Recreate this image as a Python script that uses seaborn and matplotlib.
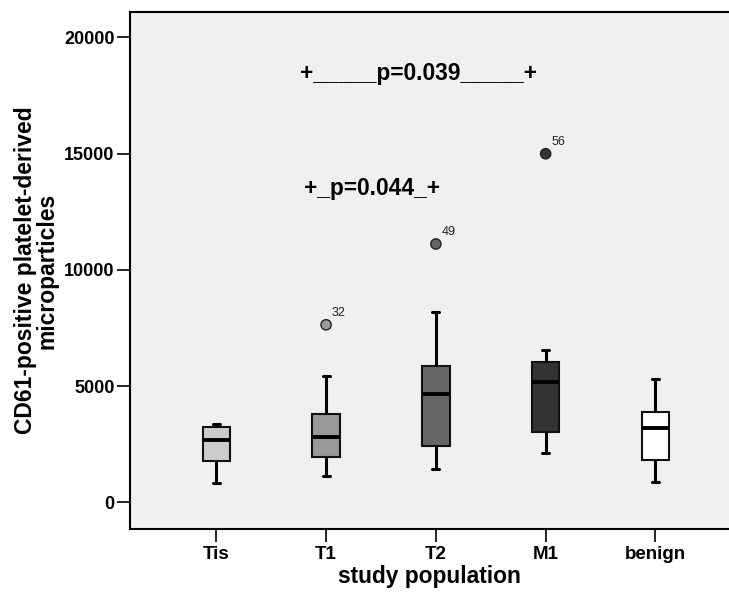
import matplotlib
matplotlib.use("Agg")
import matplotlib.pyplot as plt
import seaborn as sns
import pandas as pd

# ---- data ----
categories = ["Tis", "T1", "T2", "M1", "benign"]
whisker_low = [840, 1135, 1425, 2140, 895]
q1 = [1795, 1940, 2445, 3020, 1825]
median = [2685, 2805, 4660, 5180, 3205]
q3 = [3230, 3805, 5870, 6055, 3905]
whisker_high = [3385, 5450, 8205, 6555, 5325]
outlier_cat = ["T1", "T2", "M1"]
outlier_val = [7640, 11115, 14995]
outlier_id = ["32", "49", "56"]
box_colors = ["#cccccc", "#999999", "#666666", "#333333", "#ffffff"]
yticks = [0, 5000, 10000, 15000, 20000]
ann1 = "+_____p=0.039_____+"
ann2 = "+_p=0.044_+"

# table of values reproducing each five-number summary (n=9)
rows = []
for c, lo, a, m, b, hi in zip(categories, whisker_low, q1, median, q3, whisker_high):
    for v in [lo, a, a, m, m, b, b, hi, hi]:
        rows.append({"group": c, "value": v})
df = pd.DataFrame(rows)
out_df = pd.DataFrame({"group": outlier_cat, "value": outlier_val, "id": outlier_id})
palette = dict(zip(categories, box_colors))

sns.set_style("ticks")
plt.rcParams["font.family"] = ["Liberation Sans", "DejaVu Sans"]
plt.rcParams["text.color"] = "black"
plt.rcParams["axes.labelcolor"] = "black"
plt.rcParams["xtick.color"] = "black"
plt.rcParams["ytick.color"] = "black"

fig = plt.figure(figsize=(7.29, 5.95), dpi=100)
ax = fig.add_axes([130 / 729, 1 - 529 / 595, 1 - 130 / 729, (529 - 12) / 595])
ax.set_facecolor("#f0f0f0")

sns.boxplot(data=df, x="group", y="value", hue="group", order=categories,
            hue_order=categories, palette=palette, width=0.25, whis=(0, 100),
            showfliers=False, legend=False, ax=ax, linecolor="#111111",
            linewidth=1.5, saturation=1,
            medianprops={"linewidth": 2.8, "color": "black"},
            whiskerprops={"linewidth": 2.2, "color": "black"},
            capprops={"linewidth": 2.2, "color": "black"},
            capwidths=0.065)

sns.scatterplot(data=out_df, x="group", y="value", hue="group",
                palette={c: palette[c] for c in outlier_cat}, s=55,
                edgecolor="#222222", linewidth=1.0, legend=False, ax=ax, zorder=5)

for c, v, t in zip(outlier_cat, outlier_val, outlier_id):
    ax.annotate(t, (categories.index(c), v), xytext=(4, 4), textcoords="offset points",
                ha="left", va="bottom", fontsize=9, color="#222222")

ax.text(0.764, 18465, ann1, fontsize=16.4, fontweight="bold", ha="left", va="center",
        color="black")
ax.text(0.80, 13480, ann2, fontsize=16.4, fontweight="bold", ha="left", va="center",
        color="black")

ax.set_xlim(-0.786, 4.67)
ax.set_ylim(-1140, 21090)
ax.set_yticks(yticks)
ax.set_yticklabels([str(t) for t in yticks])
ax.tick_params(axis="y", direction="out", length=9.5, width=1.2, color="black", pad=1.5,
               left=True)
ax.tick_params(axis="x", direction="out", length=9.5, width=1.2, color="black", pad=3,
               bottom=True)
for lab in ax.get_yticklabels():
    lab.set_fontsize(13)
    lab.set_fontweight("bold")
for lab in ax.get_xticklabels():
    lab.set_fontsize(13.5)
    lab.set_fontweight("bold")

ax.set_xlabel("study population", fontsize=16.4, fontweight="bold", labelpad=1)
ax.set_ylabel("CD61-positive platelet-derived\nmicroparticles", fontsize=16.5,
              fontweight="bold", labelpad=4, linespacing=0.95)

for s in ["left", "top", "bottom"]:
    ax.spines[s].set_visible(True)
    ax.spines[s].set_color("black")
    ax.spines[s].set_linewidth(1.5)
ax.spines["right"].set_visible(False)

fig.savefig("out.png", dpi=100)
